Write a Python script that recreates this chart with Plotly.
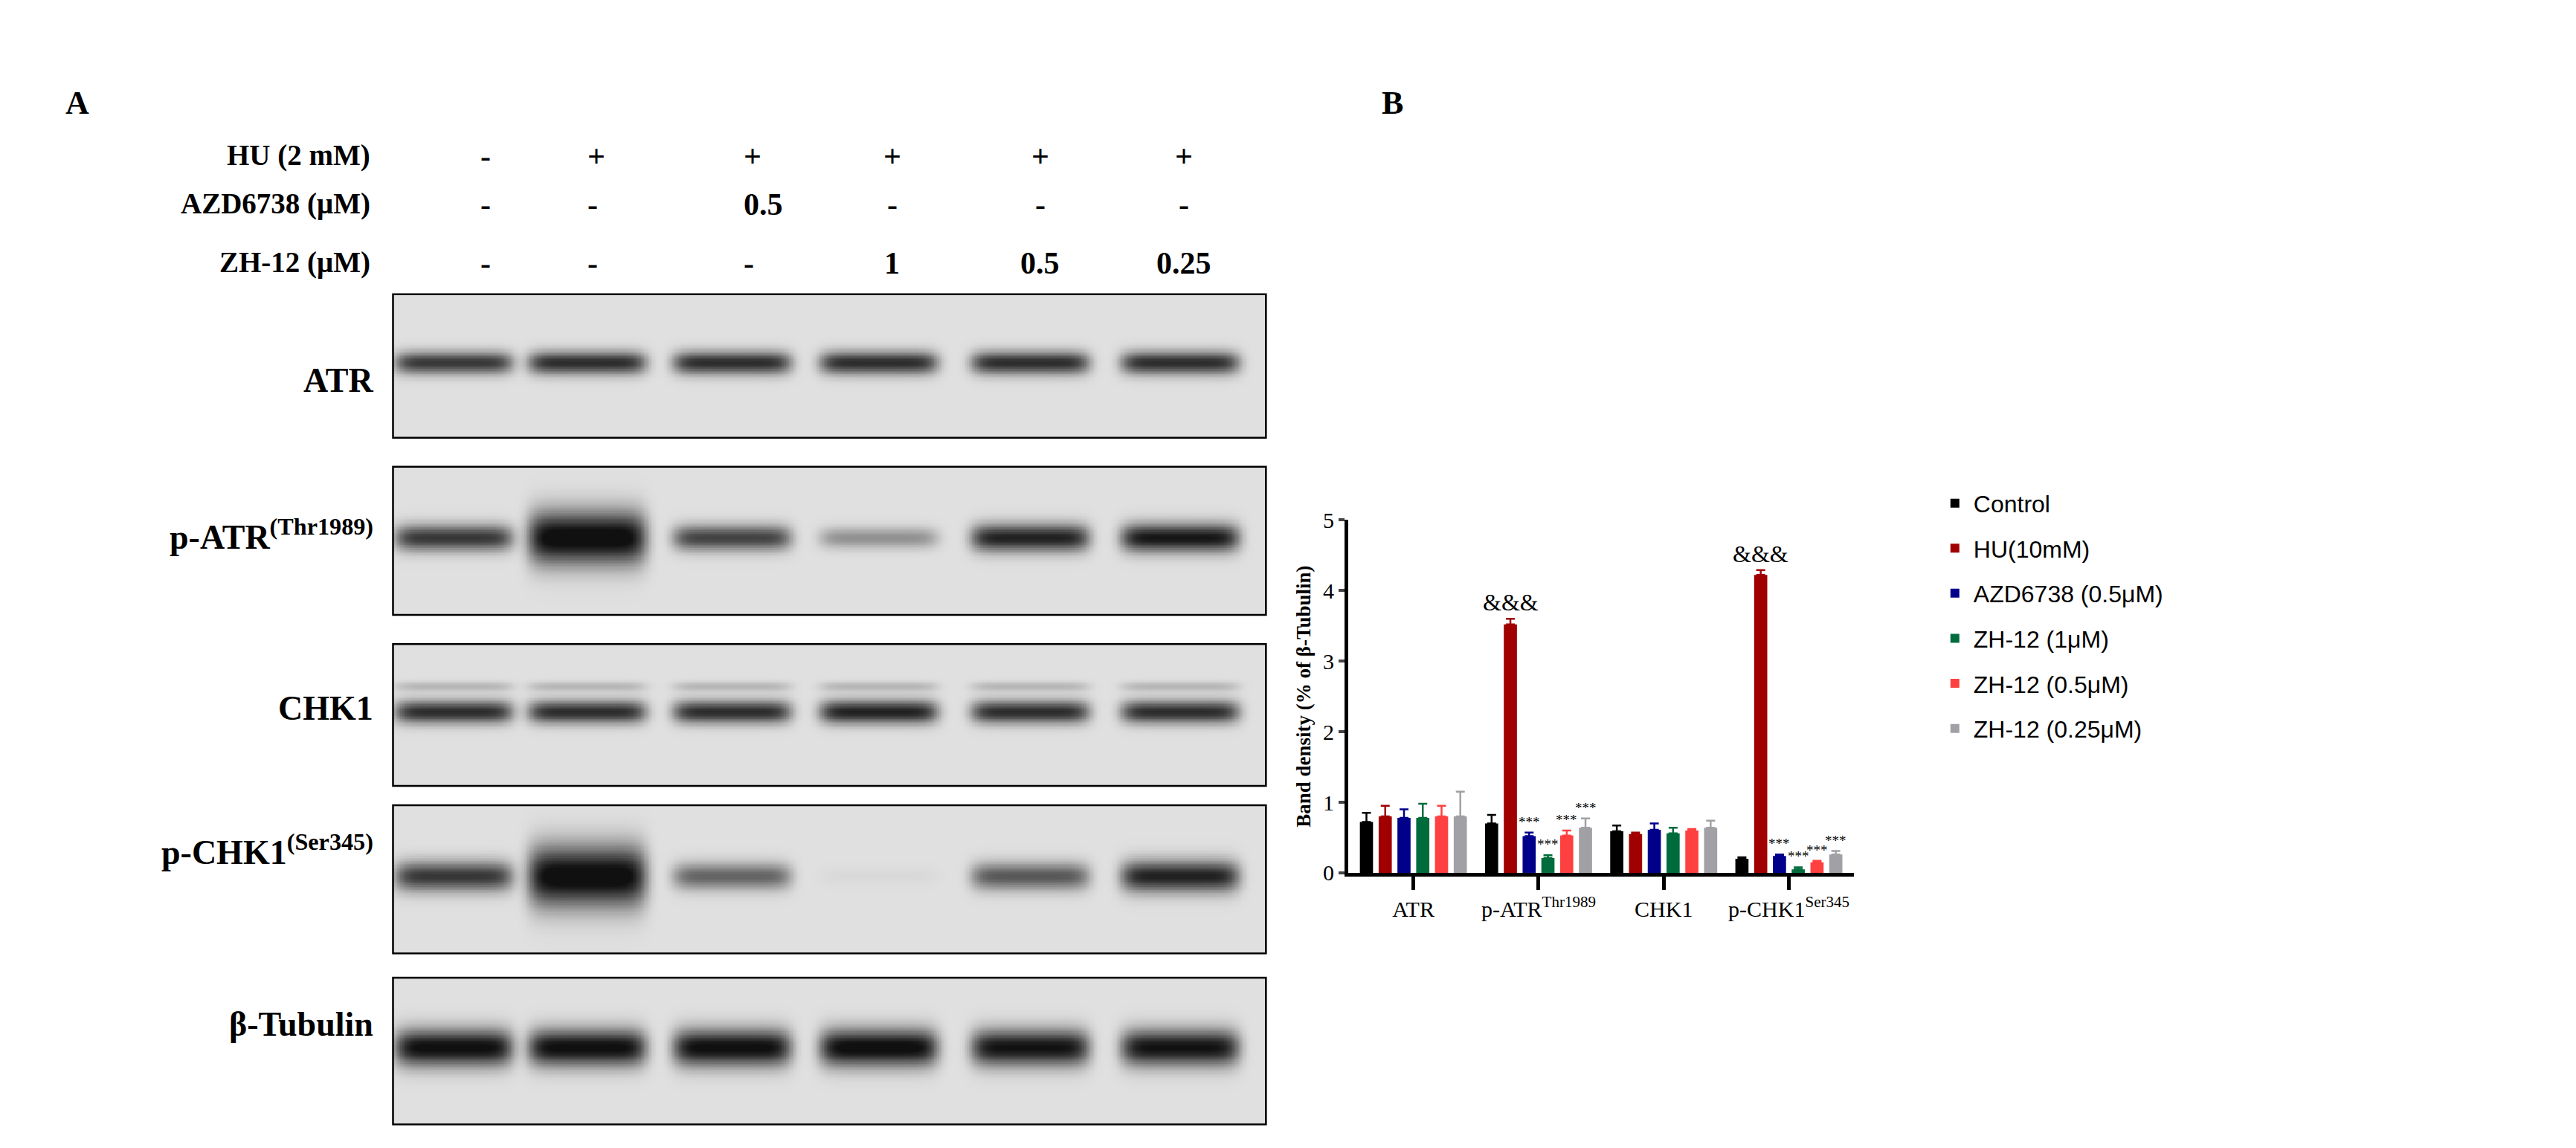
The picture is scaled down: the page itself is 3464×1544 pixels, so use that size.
import numpy as np
import plotly.graph_objects as go

# ---------------- data ----------------
groups = ["ATR", "p-ATR<sup>Thr1989</sup>", "CHK1", "p-CHK1<sup>Ser345</sup>"]
series = ["Control", "HU(10mM)", "AZD6738 (0.5μM)", "ZH-12 (1μM)", "ZH-12 (0.5μM)", "ZH-12 (0.25μM)"]
colors = ["#000000", "#A00000", "#00008B", "#006B3C", "#FF4040", "#A0A0A5"]
control = [0.72, 0.70, 0.59, 0.20]
hu = [0.80, 3.52, 0.55, 4.22]
azd = [0.78, 0.52, 0.61, 0.24]
zh1 = [0.78, 0.21, 0.56, 0.05]
zh05 = [0.80, 0.53, 0.60, 0.15]
zh025 = [0.80, 0.64, 0.64, 0.26]
err_control = [0.13, 0.12, 0.08, 0.02]
err_hu = [0.15, 0.08, 0.02, 0.07]
err_azd = [0.12, 0.05, 0.09, 0.02]
err_zh1 = [0.20, 0.04, 0.08, 0.03]
err_zh05 = [0.15, 0.07, 0.02, 0.02]
err_zh025 = [0.35, 0.13, 0.10, 0.05]
sig_marks = [["", "", "", ""], ["", "&&&", "", "&&&"], ["", "***", "", "***"],
             ["", "***", "", "***"], ["", "***", "", "***"], ["", "***", "", "***"]]

values = [control, hu, azd, zh1, zh05, zh025]
errors = [err_control, err_hu, err_azd, err_zh1, err_zh05, err_zh025]

# blot table
header_labels = ["HU (2 mM)", "AZD6738 (μM)", "ZH-12 (μM)"]
hu_row = ["-", "+", "+", "+", "+", "+"]
azd_row = ["-", "-", "0.5", "-", "-", "-"]
zh_row = ["-", "-", "-", "1", "0.5", "0.25"]
blot_names = ["ATR", "p-ATR<sup>(Thr1989)</sup>", "CHK1", "p-CHK1<sup>(Ser345)</sup>", "β-Tubulin"]
band_atr = [0.75, 0.80, 0.80, 0.80, 0.80, 0.80]
band_patr = [0.75, 1.00, 0.70, 0.35, 0.85, 0.90]
band_chk1 = [0.80, 0.80, 0.80, 0.85, 0.80, 0.80]
band_pchk1 = [0.75, 1.00, 0.55, 0.03, 0.60, 0.85]
band_tub = [0.95, 0.95, 0.95, 0.97, 0.92, 0.92]
bands = [band_atr, band_patr, band_chk1, band_pchk1, band_tub]

# ---------------- layout helpers ----------------
W, H = 1564.0, 697.0
def fx(px): return px / W
def fy(py): return 1 - py / H

SERIF = "Liberation Serif"
SANS = "Liberation Sans"

fig = go.Figure()

# ---------------- panel B: bars ----------------
n = len(series)
step, bw = 0.15, 0.105
for i, (name, vals, errs, col) in enumerate(zip(series, values, errors, colors)):
    off = (i - (n - 1) / 2) * step
    xs = [g + off for g in range(len(groups))]
    fig.add_trace(go.Bar(
        x=xs, y=vals, width=bw, name=name, marker=dict(color=col, line=dict(width=0)),
        error_y=dict(type="data", array=errs, symmetric=False, arrayminus=[0]*len(errs),
                     color=col, thickness=2.5, width=6),
        legendgroup=name, xaxis="x", yaxis="y"))
    for g, (v, e, s) in enumerate(zip(vals, errs, sig_marks[i])):
        if s:
            fig.add_annotation(x=g + off, y=v + e, text=s, showarrow=False, yanchor="bottom",
                               xref="x", yref="y", yshift=2,
                               font=dict(family=SERIF, size=32 if s == "&&&" else 19, color="black"))

fig.update_layout(
    xaxis=dict(domain=[fx(815), fx(1122)], range=[-0.52, 3.52], tickvals=list(range(len(groups))),
               ticktext=groups, showline=True, linewidth=5, linecolor="black", ticks="outside",
               ticklen=18, tickwidth=5, tickcolor="black", showgrid=False, zeroline=False,
               tickfont=dict(family=SERIF, size=30, color="black"), anchor="y"),
    yaxis=dict(domain=[fy(530), fy(311)], range=[0, 5], dtick=1, showline=True, linewidth=5,
               linecolor="black", ticks="outside", ticklen=8, tickwidth=4, showgrid=False,
               zeroline=False, tickfont=dict(family=SERIF, size=30, color="black"),
               title=dict(text="<b>Band density (% of β-Tubulin)</b>", standoff=10,
                          font=dict(family=SERIF, size=27, color="black")), anchor="x"),
    barmode="overlay",
    legend=dict(x=fx(1172), y=fy(288), xanchor="left", yanchor="top", tracegroupgap=16,
                font=dict(family=SANS, size=32, color="black"), itemwidth=40,
                bgcolor="rgba(0,0,0,0)"),
)

# ---------------- panel A: blots as heatmaps ----------------
lane_centers = [37, 118, 206, 295, 387, 478]
blot_boxes = [(171, 260), (278, 370), (388, 476), (488, 580), (595, 686)]
band_half_h = [6, 7, 6, 8, 9]
xs_img = np.linspace(0, 530, 531)
for k, ((top, bot), inten) in enumerate(zip(blot_boxes, bands)):
    hgt = bot - top
    ys_img = np.linspace(0, hgt, int(hgt) + 1)
    X, Y = np.meshgrid(xs_img, ys_img)
    z = np.full(X.shape, 0.08)
    for lc, v in zip(lane_centers, inten):
        hh = band_half_h[k] * (0.7 + 0.6 * v)
        if k in (1, 3) and v > 0.95:
            hh *= 1.8
        z += v * np.exp(-((X - lc) / 36.0) ** 8) * np.exp(-((Y - hgt * 0.48) / hh) ** 2)
        if k == 2:
            z += 0.18 * np.exp(-((X - lc) / 36.0) ** 8) * np.exp(-((Y - hgt * 0.3) / 3) ** 2)
    z = np.clip(z, 0, 1)
    ax = k + 2
    fig.add_trace(go.Heatmap(z=z, x=xs_img, y=ys_img, colorscale=[[0, "#f2f2f2"], [1, "#101010"]],
                             zmin=0, zmax=1, showscale=False, hoverinfo="skip",
                             xaxis=f"x{ax}", yaxis=f"y{ax}"))
    fig.layout[f"xaxis{ax}"] = dict(domain=[fx(235), fx(765)], range=[0, 530], visible=False,
                                    anchor=f"y{ax}")
    fig.layout[f"yaxis{ax}"] = dict(domain=[fy(bot), fy(top)], range=[hgt, 0], visible=False,
                                    anchor=f"x{ax}")
    fig.add_shape(type="rect", xref="paper", yref="paper", x0=fx(235), x1=fx(765),
                  y0=fy(bot), y1=fy(top), line=dict(color="black", width=2.5))
    fig.add_annotation(xref="paper", yref="paper", x=fx(224), y=fy((top + bot) / 2 - 4),
                       text=f"<b>{blot_names[k]}</b>", showarrow=False, xanchor="right",
                       font=dict(family=SERIF, size=46, color="black"))

# header table
col_x = [287, 352, 447, 538, 628, 715]
row_y = [74, 104, 140]
for r, (lab, row) in enumerate(zip(header_labels, [hu_row, azd_row, zh_row])):
    fig.add_annotation(xref="paper", yref="paper", x=fx(222), y=fy(row_y[r]), text=f"<b>{lab}</b>",
                       showarrow=False, xanchor="right", font=dict(family=SERIF, size=39, color="black"))
    for c, t in enumerate(row):
        fig.add_annotation(xref="paper", yref="paper", x=fx(col_x[c]), y=fy(row_y[r]), text=f"<b>{t}</b>",
                           showarrow=False, font=dict(family=SERIF, size=42, color="black"))

for lab, px, py in [("A", 35, 40), ("B", 842, 40)]:
    fig.add_annotation(xref="paper", yref="paper", x=fx(px), y=fy(py), text=f"<b>{lab}</b>",
                       showarrow=False, font=dict(family=SERIF, size=44, color="black"))

fig.update_layout(width=3464, height=1544, margin=dict(l=0, r=0, t=0, b=0),
                  plot_bgcolor="white", paper_bgcolor="white", showlegend=True)
fig.write_html("out.html")
